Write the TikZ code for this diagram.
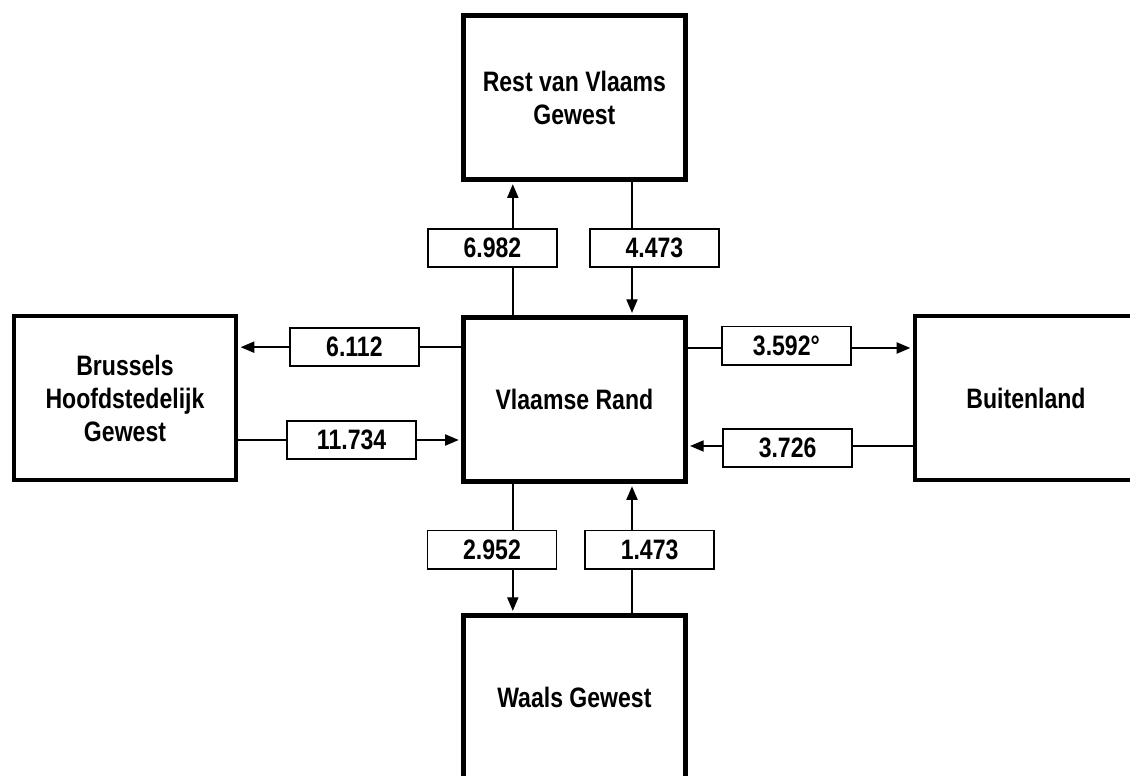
\documentclass[tikz,border=0pt]{standalone}
\usepackage{fontspec}
\setsansfont{Liberation Sans}[FakeStretch=0.82]
\usetikzlibrary{arrows.meta, positioning}
\tikzset{
  every picture/.style={font=\sffamily\bfseries\fontsize{20}{23.5}\selectfont, line width=1pt},
  box/.style={draw=black, fill=white, line width=3.5pt, align=center, minimum width=5.55cm, minimum height=4.1cm, inner sep=4pt},
  arrow/.style={-{Triangle[length=3.4mm, width=2.8mm]}, draw=black, line width=1pt, shorten >=1.6pt},
  lab/.style={draw=black, fill=white, line width=1.2pt, minimum width=3.23cm, minimum height=0.96cm, inner sep=1pt},
}

\begin{document}
\begin{tikzpicture}
  \clip (0,0) rectangle (28.25,19.4);
  % regions
  \node[box] (rand) at (14.36,9.41) {Vlaamse Rand};
  \node[box] (rest) at (14.36,16.96) {Rest van Vlaams\\Gewest};
  \node[box] (waals) at (14.36,1.96) {Waals Gewest};
  \node[box] (brussel) at (3.125,9.45) {Brussels\\Hoofdstedelijk\\Gewest};
  \node[box] (buiten) at (25.65,9.45) {Buitenland};
  % flows
  \draw[arrow] ([xshift=-1.54cm]rand.north) -- ([xshift=-1.54cm]rest.south);
  \draw[arrow] ([xshift=1.44cm]rest.south) -- ([xshift=1.44cm]rand.north);
  \draw[arrow] ([yshift=1.31cm]rand.west) -- ([yshift=1.31cm]rand.west -| brussel.east);
  \draw[arrow] ([yshift=-1.01cm]rand.west -| brussel.east) -- ([yshift=-1.01cm]rand.west);
  \draw[arrow] ([yshift=1.29cm]rand.east) -- ([yshift=1.29cm]rand.east -| buiten.west);
  \draw[arrow] ([yshift=-1.16cm]rand.east -| buiten.west) -- ([yshift=-1.16cm]rand.east);
  \draw[arrow] ([xshift=-1.54cm]rand.south) -- ([xshift=-1.54cm]waals.north);
  \draw[arrow] ([xshift=1.44cm]waals.north) -- ([xshift=1.44cm]rand.south);
  % numbers
  \node[lab] (nrestuit) at (12.31,13.2) {6.982};
  \node[lab] (nrestin) at (16.36,13.2) {4.473};
  \node[lab] (nbruuit) at (8.86,10.725) {6.112};
  \node[lab] (nbruin) at (8.79,8.4) {11.734};
  \node[lab] (nbuituit) at (19.66,10.76) {3.592°};
  \node[lab] (nbuitin) at (19.69,8.2) {3.726};
  \node[lab] (nwaaluit) at (12.3,5.66) {2.952};
  \node[lab] (nwaalin) at (16.24,5.66) {1.473};
\end{tikzpicture}
\end{document}
